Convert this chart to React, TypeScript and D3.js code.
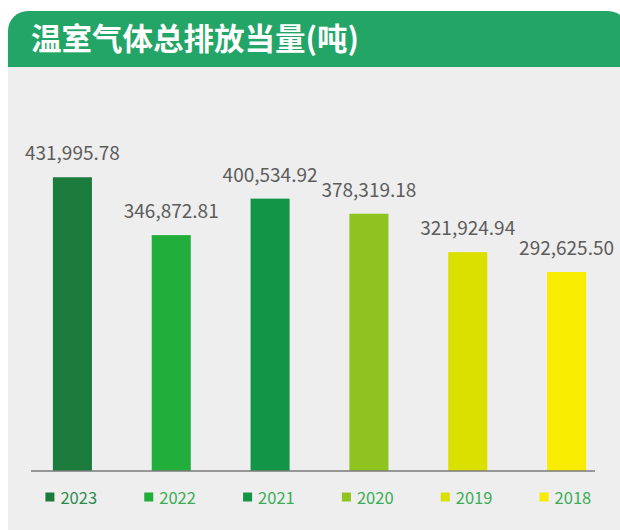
import React from "react";
import * as d3 from "d3";

const years = ["2023", "2022", "2021", "2020", "2019", "2018"];
const values = [431995.78, 346872.81, 400534.92, 378319.18, 321924.94, 292625.5];
const colors = ["#1a7b3d", "#22ae3a", "#129546", "#8fc320", "#dbe000", "#f8ec00"];
const legendTextColors = ["#2c8a4d", "#3aad55", "#3aad55", "#3aad55", "#3aad55", "#3aad55"];
const title = "温室气体总排放当量(吨)";

const W = 620;
const H = 530;
const baseY = 471;
const font = "'Noto Sans CJK SC', 'Noto Sans', sans-serif";

export default function App() {
  const x = d3
    .scaleBand<string>()
    .domain(years)
    .range([23, 616])
    .paddingInner(0.605)
    .paddingOuter(0.3025);
  const y = d3.scaleLinear().domain([0, 500000]).range([baseY, baseY - 340]);
  const fmt = d3.format(",.2f");

  const cardL = 8, cardT = 11, cardR = 628, headB = 67, r = 20;
  const headerPath = `M${cardL},${headB} L${cardL},${cardT + r} A${r},${r} 0 0 1 ${cardL + r},${cardT} L${cardR - r},${cardT} A${r},${r} 0 0 1 ${cardR},${cardT + r} L${cardR},${headB} Z`;

  return (
    <svg
      width={W}
      height={H}
      style={{ position: "absolute", left: 0, top: 0, background: "#ffffff" }}
    >
      <rect x={cardL} y={headB} width={cardR - cardL} height={H - headB} fill="#eeeeee" />
      <path d={headerPath} fill="#22a566" />
      <text
        x={31}
        y={50}
        fill="#ffffff"
        fontFamily={font}
        fontWeight={700}
        fontSize={30.5}
      >
        {title}
      </text>

      {years.map((yr, i) => {
        const bx = x(yr)!;
        const by = y(values[i]);
        return (
          <g key={yr}>
            <rect x={bx} y={by} width={x.bandwidth()} height={baseY - by} fill={colors[i]} />
            <text
              x={bx + x.bandwidth() / 2}
              y={by - 17}
              textAnchor="middle"
              fill="#5c5c5c"
              fontFamily={font}
              fontSize={19}
            >
              {fmt(values[i])}
            </text>
          </g>
        );
      })}

      <line x1={31} x2={595} y1={baseY} y2={baseY} stroke="#7a7a7a" strokeWidth={1.6} />

      {years.map((yr, i) => {
        const cx = x(yr)! + x.bandwidth() / 2;
        return (
          <g key={"lg" + yr}>
            <rect x={cx - 27} y={492.5} width={9} height={9} fill={colors[i]} />
            <text
              x={cx - 12}
              y={504}
              fill={legendTextColors[i]}
              fontFamily={font}
              fontSize={16.5}
            >
              {yr}
            </text>
          </g>
        );
      })}
    </svg>
  );
}
